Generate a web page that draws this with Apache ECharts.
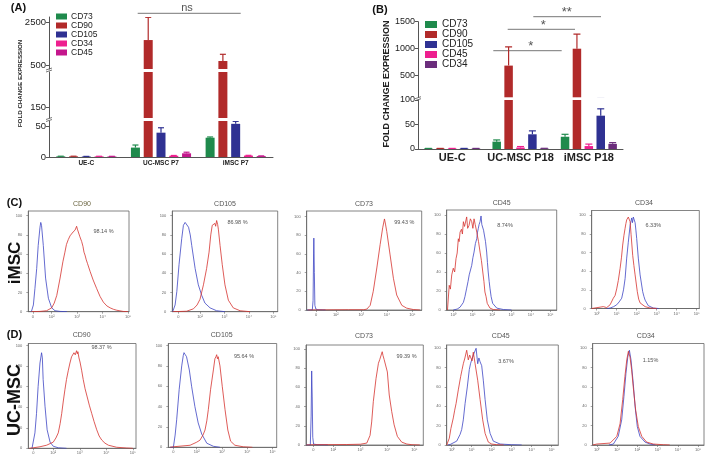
<!DOCTYPE html>
<html lang="en">
<head>
<meta charset="UTF-8">
<title>MSC marker expression</title>
<script src="https://cdn.jsdelivr.net/npm/echarts@6/dist/echarts.min.js"></script>
<style>html,body{margin:0;background:#fff}#main{width:709px;height:462px}</style>
</head>
<body>
<div id="main"></div>
<script>
// ---- (A) qPCR, passage 7 ----
var groupsA = ['UE-C', 'UC-MSC P7', 'iMSC P7'];
var markersA = ['CD73', 'CD90', 'CD105', 'CD34', 'CD45'];
var colorsA = ['#1f8a4c', '#b12a2a', '#2f3192', '#ee1f8f', '#c4168c'];
var aCD73 = [1.0, 15.3, 31.4],  aCD73err = [0.3, 4.2, 1.2];
var aCD90 = [1.0, 1680, 690],   aCD90err = [0.3, 1075, 316];
var aCD105 = [0.8, 39.6, 54],   aCD105err = [0.2, 8, 4];
var aCD34 = [1.0, 2.0, 2.3],    aCD34err = [0.2, 0.5, 0.4];
var aCD45 = [0.9, 6.0, 1.5],    aCD45err = [0.2, 1.8, 0.3];
var yTicksA = [0, 50, 150, 500, 2500];

// ---- (B) qPCR, passage 18 ----
var groupsB = ['UE-C', 'UC-MSC P18', 'iMSC P18'];
var markersB = ['CD73', 'CD90', 'CD45', 'CD105', 'CD34'];
var colorsB = ['#1f8a4c', '#b12a2a', '#ee1f8f', '#2f3192', '#6b2d7c'];
var legendOrderB = ['CD73', 'CD90', 'CD105', 'CD45', 'CD34'];
var bCD73 = [1.0, 15, 25],      bCD73err = [0.2, 3.5, 5];
var bCD90 = [1.0, 687, 1000],   bCD90err = [0.2, 345, 270];
var bCD45 = [1.0, 3, 6],        bCD45err = [0.2, 2, 4];
var bCD105 = [1.0, 30, 68],     bCD105err = [0.2, 7, 14];
var bCD34 = [1.0, 1, 10.5],     bCD34err = [0.2, 0.4, 2.5];
var yTicksB = [0, 50, 100, 500, 1000, 1500];

// ---- (C)/(D) flow cytometry histograms, x in decades ----
var flowTitles = ['CD90', 'CD105', 'CD73', 'CD45', 'CD34'];
var pctC = ['98.14 %', '86.98 %', '99.43 %', '8.74%', '6.33%'];
var pctD = ['98.37 %', '95.64 %', '99.39 %', '3.67%', '1.15%'];
var flowYTicks = [0, 20, 40, 60, 80, 100];
var logTicks = [0, 1, 2, 3, 4, 5];
var biexTicks = [2, 3, 4, 5];

var cCD90blue = [[1.20,0],[1.28,7],[1.34,24],[1.41,45],[1.47,69],[1.54,88],[1.57,93],[1.60,90],[1.67,69],[1.76,35],[1.87,14],[2.0,4],[2.13,1],[2.33,0.3],[2.6,0]];
var cCD90red = [[1.20,0],[1.54,0.3],[1.80,1],[2.0,4],[2.10,9],[2.20,17],[2.33,35],[2.44,52],[2.52,62],[2.58,70],[2.65,75],[2.72,79],[2.76,77],[2.79,80],[2.84,83],[2.88,81],[2.92,85],[2.95,84],[2.98,89],[3.01,86],[3.04,84],[3.07,87],[3.11,78],[3.15,76],[3.18,73],[3.23,68],[3.27,62],[3.31,59],[3.36,54],[3.41,50],[3.51,42],[3.63,33],[3.77,24],[3.90,16],[4.03,10],[4.17,6],[4.30,4],[4.43,2.5],[4.56,1.5],[4.81,0.3],[5.0,0]];
var cCD105blue = [[0.88,0],[0.98,7],[1.05,21],[1.14,49],[1.25,76],[1.32,90],[1.39,93],[1.45,92],[1.53,88],[1.60,80],[1.66,69],[1.80,45],[1.93,28],[2.07,17],[2.20,9],[2.41,4],[2.68,1],[3.02,0]];
var cCD105red = [[0.88,0],[1.45,0.5],[1.73,3],[1.88,7],[2.0,13],[2.14,28],[2.27,45],[2.37,62],[2.44,80],[2.50,90],[2.55,88],[2.61,92],[2.64,89],[2.68,95],[2.72,91],[2.75,86],[2.82,69],[2.91,49],[3.02,28],[3.16,12],[3.36,4],[3.64,1],[4.05,0]];
var cCD73blue = [[0.86,0],[1.08,0],[1.11,10],[1.13,60],[1.14,77],[1.16,40],[1.18,5],[1.22,1],[1.30,0.3],[1.6,0]];
var cCD73red = [[0.9,0],[2.5,0.3],[3.1,0.3],[3.22,1],[3.35,5],[3.47,20],[3.61,45],[3.74,70],[3.84,88],[3.91,97.5],[3.95,92],[4.0,84],[4.13,59],[4.26,34],[4.39,16],[4.59,5],[4.78,2],[5.04,0.5],[5.3,0]];
var cCD45red = [[-0.3,0],[-0.26,0],[-0.21,26],[-0.15,22],[-0.08,37],[0,44],[0.07,40],[0.14,54],[0.2,60],[0.26,75],[0.3,72],[0.35,82],[0.42,85],[0.47,80],[0.52,93],[0.58,88],[0.64,90],[0.69,98],[0.74,86],[0.81,89],[0.88,96],[0.95,93],[1.01,86],[1.07,96],[1.13,90],[1.21,82],[1.3,72],[1.38,61],[1.45,52],[1.52,40],[1.58,30],[1.63,19],[1.69,14],[1.75,7],[1.89,2],[2.06,0.5],[2.4,0]];
var cCD45blue = [[0,0],[0.2,1],[0.35,3],[0.52,8],[0.6,14],[0.69,23],[0.76,30],[0.82,37],[0.88,35],[0.95,47],[1.01,55],[1.07,61],[1.14,70],[1.21,75],[1.25,82],[1.29,86],[1.33,90],[1.38,93],[1.43,99],[1.47,90],[1.52,91],[1.56,84],[1.6,86],[1.66,72],[1.72,61],[1.76,50],[1.8,40],[1.85,30],[1.89,23],[1.95,14],[2.03,7],[2.24,2],[2.58,0.5],[3.0,0]];
var cCD34red = [[-0.25,0],[-0.17,0.5],[0.33,2],[0.5,1],[0.67,4],[0.75,6],[0.83,11],[0.92,14],[1.0,21],[1.08,30],[1.17,43],[1.24,55],[1.3,68],[1.36,78],[1.42,86],[1.46,91],[1.5,95],[1.55,93],[1.58,98],[1.62,96],[1.67,93],[1.72,79],[1.8,57],[1.86,46],[1.92,36],[2.03,18],[2.1,10],[2.17,6],[2.42,2],[2.67,0.5],[3.0,0]];
var cCD34blue = [[0.5,0],[0.67,0.5],[0.85,2],[1.0,4],[1.12,7],[1.25,11],[1.34,20],[1.42,32],[1.5,54],[1.58,71],[1.67,89],[1.72,94],[1.75,97],[1.79,92],[1.83,98],[1.87,96],[1.92,92],[1.96,84],[2.0,75],[2.08,54],[2.17,36],[2.3,18],[2.36,13],[2.42,9],[2.5,6],[2.58,3],[2.83,0.5],[3.1,0]];

var dCD90blue = [[1.2,0],[1.25,1],[1.31,15],[1.37,34],[1.43,60],[1.50,83],[1.56,93],[1.59,88],[1.62,67],[1.69,41],[1.77,18],[1.88,6],[2.0,2],[2.19,0.5],[2.5,0]];
var dCD90red = [[1.1,0],[1.25,0.5],[1.5,1.5],[1.75,3],[2.0,6],[2.1,10],[2.19,15],[2.26,24],[2.32,34],[2.38,46],[2.44,57],[2.5,67],[2.57,76],[2.63,83],[2.69,89],[2.74,90],[2.78,93],[2.83,91],[2.88,95],[2.91,92],[2.93,94],[2.97,88],[3.01,84],[3.07,76],[3.13,67],[3.2,58],[3.28,50],[3.36,42],[3.45,34],[3.54,26],[3.64,18],[3.73,12],[3.83,8],[3.95,5],[4.08,3],[4.39,1],[4.77,0.3],[5.0,0]];
var dCD105blue = [[0.95,0],[1.08,0],[1.15,12],[1.21,27],[1.31,57],[1.41,80],[1.47,90],[1.50,93],[1.55,91],[1.60,89],[1.71,76],[1.80,60],[1.93,40],[2.06,24],[2.20,13],[2.40,4],[2.66,1],[2.92,0]];
var dCD105red = [[0.95,0],[1.08,0.5],[1.74,2],[2.0,5],[2.13,7],[2.25,12],[2.33,17],[2.4,26],[2.46,37],[2.55,57],[2.66,76],[2.72,87],[2.76,89],[2.79,91],[2.82,87],[2.85,89],[2.92,80],[3.01,60],[3.12,37],[3.23,17],[3.34,6],[3.51,2],[3.84,0.5],[4.2,0]];
var dCD73blue = [[1.0,0],[1.15,0],[1.18,30],[1.2,77],[1.22,50],[1.24,8],[1.27,1],[1.4,0.3],[1.8,0]];
var dCD73red = [[1.0,0],[1.3,0.3],[2.5,0.5],[3.0,0.8],[3.24,2],[3.36,10],[3.42,24],[3.48,45],[3.58,69],[3.67,85],[3.72,89],[3.76,91],[3.81,97],[3.84,93],[3.88,89],[3.94,88],[4.0,76],[4.07,52],[4.16,35],[4.25,21],[4.37,9],[4.53,3],[4.72,1],[4.91,0.3],[5.2,0]];
var dCD45red = [[-0.25,0],[-0.17,1],[-0.12,7],[-0.04,17],[0.08,28],[0.15,36],[0.22,43],[0.33,57],[0.45,71],[0.52,78],[0.58,84],[0.66,90],[0.75,98],[0.83,88],[0.9,93],[0.95,91],[1.02,87],[1.08,96],[1.17,84],[1.3,67],[1.42,47],[1.55,26],[1.67,12],[1.83,3],[2.0,1],[2.25,0.3],[2.6,0]];
var dCD45blue = [[-0.2,0],[-0.08,0.5],[0.25,4],[0.42,11],[0.5,16],[0.58,26],[0.67,43],[0.78,60],[0.88,78],[0.94,84],[1.0,88],[1.06,86],[1.12,95],[1.22,100],[1.3,84],[1.36,90],[1.42,86],[1.5,82],[1.58,67],[1.67,47],[1.78,26],[1.92,12],[2.08,4],[2.42,1],[3.0,0.3],[3.5,0]];
var dCD34red = [[-0.2,0],[0,1],[0.66,2],[0.99,9],[1.15,22],[1.28,47],[1.39,71],[1.48,88],[1.56,97],[1.6,94],[1.64,91],[1.72,78],[1.8,60],[1.92,36],[2.05,19],[2.22,9],[2.46,3],[2.79,1],[3.28,0.3],[3.6,0]];
var dCD34blue = [[0.6,0],[0.82,1],[1.06,9],[1.23,26],[1.34,50],[1.44,74],[1.53,91],[1.61,98],[1.69,88],[1.8,64],[1.89,40],[2.0,19],[2.13,9],[2.38,3],[2.63,1],[2.9,0]];

var FONT = '"Liberation Sans", Arial, sans-serif';
var BLUE = '#3d45c4', RED = '#d5322e';

var grids = [], xAxes = [], yAxes = [], series = [], graphics = [];

function plain(v) { return String(v); }

// broken value axis = stacked grids, each one a segment of the scale
function barPanel(cfg) {
    var segs = cfg.segs;
    for (var s = 0; s < segs.length; s++) {
        var seg = segs[s], g = grids.length, bottom = s === 0;
        grids.push({left: cfg.left, top: seg.top, width: cfg.width, height: seg.height, outerBoundsMode: 'none'});
        xAxes.push({
            type: 'category', gridIndex: g, data: cfg.groups, show: bottom,
            axisLine: {lineStyle: {color: '#555', width: 1}},
            axisTick: {length: 3, lineStyle: {color: '#555'}},
            axisLabel: {interval: 0, fontSize: cfg.xFont, fontWeight: 'bold', color: '#222', margin: 3, fontFamily: FONT}
        });
        var ticks = cfg.ticks.filter(function (t) { return (bottom ? t >= seg.min : t > seg.min) && t <= seg.max; });
        yAxes.push({
            type: 'value', gridIndex: g, min: seg.min, max: seg.max, splitLine: {show: false},
            axisLine: {show: true, onZero: false, lineStyle: {color: '#555', width: 1}},
            axisTick: {show: true, length: 3, customValues: ticks, lineStyle: {color: '#555'}},
            axisLabel: {customValues: ticks, formatter: plain, fontSize: cfg.yFont, color: '#222', margin: 3, fontFamily: FONT}
        });
        var errData = [];
        for (var i = 0; i < cfg.markers.length; i++) {
            series.push({
                type: 'bar', name: cfg.markers[i], xAxisIndex: g, yAxisIndex: g,
                data: cfg.values[i], barWidth: cfg.barWidth, barGap: cfg.barGap,
                itemStyle: {color: cfg.colors[i]}, clip: true
            });
            for (var c = 0; c < cfg.groups.length; c++) {
                errData.push([c, cfg.values[i][c], cfg.errors[i][c], i]);
            }
        }
        series.push({
            type: 'custom', xAxisIndex: g, yAxisIndex: g, clip: true, data: errData,
            encode: {x: 0, y: 1}, z: 3,
            renderItem: (function (cfg) {
                return function (params, api) {
                    var i = api.value(3);
                    var p0 = api.coord([api.value(0), api.value(1)]);
                    var p1 = api.coord([api.value(0), api.value(1) + api.value(2)]);
                    var step = cfg.barWidth * (1 + parseFloat(cfg.barGap) / 100);
                    var x = p0[0] + (i - (cfg.markers.length - 1) / 2) * step;
                    var st = {stroke: cfg.colors[i], lineWidth: 1.2};
                    return {type: 'group', children: [
                        {type: 'line', shape: {x1: x, y1: p0[1], x2: x, y2: p1[1]}, style: st},
                        {type: 'line', shape: {x1: x - cfg.cap, y1: p1[1], x2: x + cfg.cap, y2: p1[1]}, style: st}
                    ]};
                };
            })(cfg)
        });
    }
}

barPanel({
    left: 49, width: 224, groups: groupsA, markers: markersA, colors: colorsA,
    values: [aCD73, aCD90, aCD105, aCD34, aCD45],
    errors: [aCD73err, aCD90err, aCD105err, aCD34err, aCD45err],
    ticks: yTicksA, barWidth: 9, barGap: '42%', cap: 3, xFont: 6.5, yFont: 9.5,
    segs: [{top: 121, height: 36, min: 0, max: 58.6},
           {top: 72, height: 46, min: 100, max: 323},
           {top: 17, height: 52, min: 311, max: 2770}]
});
barPanel({
    left: 418, width: 205, groups: groupsB, markers: markersB, colors: colorsB,
    values: [bCD73, bCD90, bCD45, bCD105, bCD34],
    errors: [bCD73err, bCD90err, bCD45err, bCD105err, bCD34err],
    ticks: yTicksB, barWidth: 8.5, barGap: '40%', cap: 3.5, xFont: 11, yFont: 9,
    segs: [{top: 100, height: 49, min: 0, max: 100},
           {top: 21.7, height: 75.6, min: 100, max: 1500}]
});

// flow panels: box rectangle, x range (decades), position of the "0" tick for biexponential axes
var sup = ['\u2070', '\u00b9', '\u00b2', '\u00b3', '\u2074', '\u2075'];
var flowPanels = [
    {rect: [28.3, 211, 100.7, 100.7], xr: [1.08, 5.04], zero: 1.26, ymax: 104.9, tx: 82, ty: 204.3, px: 103.5, py: 231, blue: cCD90blue, red: cCD90red},
    {rect: [172.3, 211, 105.4, 100.7], xr: [0.865, 5.18], zero: 1.11, ymax: 104.9, tx: 225, ty: 204.3, px: 237.5, py: 222.3, blue: cCD105blue, red: cCD105red},
    {rect: [306.7, 211, 115, 99], xr: [0.86, 5.37], zero: 1.23, ymax: 106, tx: 364, ty: 204.3, px: 404.3, py: 222.7, blue: cCD73blue, red: cCD73red},
    {rect: [446.7, 210, 110, 100], xr: [-0.34, 5.33], zero: null, ymax: 105.3, tx: 501.7, ty: 203, px: 505, py: 225.7, blue: cCD45blue, red: cCD45red},
    {rect: [591.7, 210.5, 107.6, 98], xr: [-0.25, 5.13], zero: null, ymax: 105, tx: 644, ty: 203, px: 653.3, py: 225, blue: cCD34blue, red: cCD34red},
    {rect: [28.3, 343.5, 107.7, 104.8], xr: [1.06, 5.12], zero: 1.25, ymax: 102, tx: 81.7, ty: 335, px: 101.5, py: 347, blue: dCD90blue, red: dCD90red},
    {rect: [168.3, 343.5, 108.4, 103.8], xr: [0.88, 5.16], zero: 1.08, ymax: 102, tx: 221.7, ty: 335, px: 244, py: 356.7, blue: dCD105blue, red: dCD105red},
    {rect: [306, 345, 117.3, 100], xr: [0.99, 5.33], zero: 1.26, ymax: 104, tx: 364, ty: 336, px: 406.5, py: 356.7, blue: dCD73blue, red: dCD73red},
    {rect: [446.7, 345, 111.6, 100], xr: [-0.25, 5.33], zero: null, ymax: 103.4, tx: 500.8, ty: 336, px: 506, py: 361.7, blue: dCD45blue, red: dCD45red},
    {rect: [592.7, 343.5, 111.3, 101.5], xr: [-0.2, 5.29], zero: null, ymax: 105, tx: 645.8, ty: 336, px: 650.5, py: 360, blue: dCD34blue, red: dCD34red}
];

function txt(x, y, text, font, color, rot) {
    graphics.push({
        type: 'text', x: x, y: y, rotation: rot || 0, silent: true,
        style: {text: text, font: font, fill: color || '#222', align: 'center', verticalAlign: 'middle',
                textAlign: 'center', textVerticalAlign: 'middle'}
    });
}
function seg(x1, y1, x2, y2, color, w) {
    graphics.push({type: 'line', silent: true, shape: {x1: x1, y1: y1, x2: x2, y2: y2},
                   style: {stroke: color || '#777', lineWidth: w || 1}});
}

flowPanels.forEach(function (p, k) {
    var g = grids.length;
    grids.push({left: p.rect[0], top: p.rect[1], width: p.rect[2], height: p.rect[3],
                show: true, borderColor: '#666', borderWidth: 0.8, outerBoundsMode: 'none'});
    var ticks = p.zero == null ? logTicks.slice() : [p.zero].concat(biexTicks);
    xAxes.push({
        type: 'value', gridIndex: g, min: p.xr[0], max: p.xr[1], splitLine: {show: false},
        axisLine: {show: true, onZero: false, lineStyle: {color: '#666', width: 0.8}},
        axisTick: {show: true, customValues: ticks, length: 2, lineStyle: {color: '#666', width: 0.6}},
        axisLabel: {customValues: ticks, fontSize: 4, color: '#666', margin: 3, fontFamily: FONT,
            formatter: function (v) {
                if (p.zero != null && Math.abs(v - p.zero) < 1e-6) return '0';
                return '10' + sup[Math.round(v)];
            }}
    });
    yAxes.push({
        type: 'value', gridIndex: g, min: 0, max: p.ymax, splitLine: {show: false},
        axisLine: {show: true, onZero: false, lineStyle: {color: '#666', width: 0.8}},
        axisTick: {show: true, customValues: flowYTicks, length: 2, lineStyle: {color: '#666', width: 0.6}},
        axisLabel: {customValues: flowYTicks, formatter: plain, fontSize: 4, color: '#666', margin: 6, fontFamily: FONT}
    });
    [[p.blue, BLUE], [p.red, RED]].forEach(function (c) {
        series.push({type: 'line', xAxisIndex: g, yAxisIndex: g, data: c[0], symbol: 'none',
                     showSymbol: false, lineStyle: {color: c[1], width: 0.8}, itemStyle: {color: c[1]}});
    });
    txt(p.tx, p.ty, flowTitles[k % 5], '7px ' + FONT, k === 0 ? '#6b6540' : '#555');
    txt(p.px, p.py, (k < 5 ? pctC : pctD)[k % 5], '5.5px ' + FONT, '#555');
});

// panel letters, axis titles, row labels
txt(18.5, 7.5, '(A)', 'bold 11px ' + FONT, '#111');
txt(380, 10, '(B)', 'bold 11px ' + FONT, '#111');
txt(14.5, 203, '(C)', 'bold 11px ' + FONT, '#111');
txt(14.5, 335, '(D)', 'bold 11px ' + FONT, '#111');
txt(20.5, 83.5, 'FOLD CHANGE EXPRESSION', 'bold 6.2px ' + FONT, '#222', Math.PI / 2);
txt(387, 84, 'FOLD CHANGE EXPRESSION', 'bold 9px ' + FONT, '#222', Math.PI / 2);
txt(15, 263, 'iMSC', 'bold 17px ' + FONT, '#111', Math.PI / 2);
txt(15, 400, 'UC-MSC', 'bold 18px ' + FONT, '#111', Math.PI / 2);

// significance brackets
seg(137.7, 13.3, 240.7, 13.3, '#777');
txt(187, 7.5, 'ns', '11px ' + FONT, '#555');
seg(493.3, 50.7, 561.7, 50.7, '#777');
txt(530.7, 46, '*', '13px ' + FONT, '#555');
seg(507.7, 29.3, 575, 29.3, '#777');
txt(543.3, 25, '*', '13px ' + FONT, '#555');
seg(533.3, 16.7, 601, 16.7, '#777');
txt(566.7, 12.5, '**', '13px ' + FONT, '#555');

// axis break marks
[[49, 70], [49, 119.5], [418, 98.7]].forEach(function (b) {
    seg(b[0] - 3, b[1], b[0] + 3, b[1] - 2, '#555', 0.8);
    seg(b[0] - 3, b[1] + 2, b[0] + 3, b[1], '#555', 0.8);
});

var legendA = markersA.map(function (m, i) { return {name: m, itemStyle: {color: colorsA[i]}}; });
var legendB = legendOrderB.map(function (m) { return {name: m, itemStyle: {color: colorsB[markersB.indexOf(m)]}}; });

var chart = echarts.init(document.getElementById('main'));
chart.setOption({
    animation: false,
    backgroundColor: '#fff',
    textStyle: {fontFamily: FONT},
    legend: [
        {data: legendA, orient: 'vertical', left: 56, top: 12, itemWidth: 11, itemHeight: 6, itemGap: 0,
         icon: 'rect', selectedMode: false, padding: 0,
         textStyle: {fontSize: 8.5, lineHeight: 9, color: '#222', padding: [0, 0, 0, -1]}},
        {data: legendB, orient: 'vertical', left: 425, top: 19.5, itemWidth: 12, itemHeight: 7, itemGap: 0,
         icon: 'rect', selectedMode: false, padding: 0,
         textStyle: {fontSize: 10, lineHeight: 9, color: '#222'}}
    ],
    grid: grids,
    xAxis: xAxes,
    yAxis: yAxes,
    series: series,
    graphic: {elements: graphics}
});
</script>
</body>
</html>
